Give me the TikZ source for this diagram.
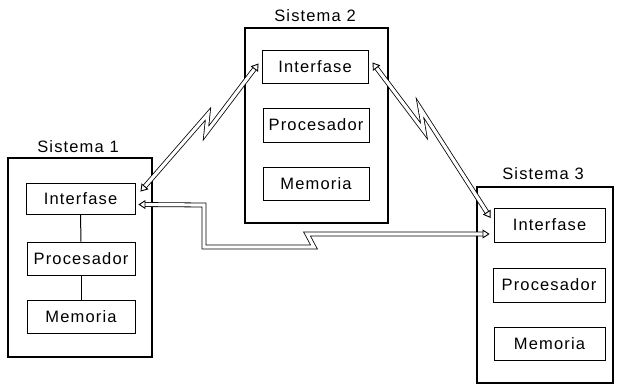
\documentclass[tikz,border=0pt]{standalone}
\usepackage{fontspec}
\setmainfont{Liberation Sans}[LetterSpace=7]
\usetikzlibrary{arrows.meta,calc}
\begin{document}
\begin{tikzpicture}[x=1pt,y=-1pt,
  sysbox/.style={draw,line width=1.1pt,inner sep=0pt},
  ibox/.style={draw,line width=0.9pt,inner sep=0pt,minimum width=108pt,minimum height=33pt,font=\fontsize{16.5}{18}\selectfont},
  syslabel/.style={font=\fontsize{16.5}{18}\selectfont,inner sep=0pt},
  link/.style={draw,line width=0.8pt,double=white,double distance=3.2pt,line join=miter,
    {Triangle[open,length=7pt,width=9pt,line width=0.9pt]}-{Triangle[open,length=7pt,width=9pt,line width=0.9pt]}},
  plain/.style={draw,line width=1pt}]
\useasboundingbox (0,0) rectangle (622,385);
% Sistema 1
\node[sysbox,minimum width=144pt,minimum height=199pt] (s1) at (80,257.5) {};
\node[syslabel] (s1l) at (78,147) {Sistema 1};
\node[ibox,minimum width=109pt,minimum height=31pt] (s1i) at (80.5,198.5) {Interfase};
\node[ibox] (s1p) at (81,258.5) {Procesador};
\node[ibox] (s1m) at (81,316.5) {Memoria};
\draw[plain] (s1i.south) -- (s1p.north);
\draw[plain] (s1p.south) -- (s1m.north);
% Sistema 2
\node[sysbox,minimum width=143pt,minimum height=195pt] (s2) at (316.5,125.5) {};
\node[syslabel] (s2l) at (315,16) {Sistema 2};
\node[ibox,minimum width=106pt] (s2i) at (315,66.5) {Interfase};
\node[ibox,minimum width=106pt,minimum height=34pt] (s2p) at (316,125) {Procesador};
\node[ibox,minimum width=106pt] (s2m) at (316,183.5) {Memoria};
% Sistema 3
\node[sysbox,minimum width=136pt,minimum height=196pt] (s3) at (545,285) {};
\node[syslabel] (s3l) at (543,174) {Sistema 3};
\node[ibox,minimum width=111pt,minimum height=34pt] (s3i) at (549.5,225) {Interfase};
\node[ibox,minimum width=112pt,minimum height=34pt] (s3p) at (549,285) {Procesador};
\node[ibox,minimum width=111pt] (s3m) at (549.5,343.5) {Memoria};
% connector end points
\coordinate (a1) at ($(s1i.north east)+(5,9)$);
\coordinate (b1) at ($(s2i.west)+(-3,-3)$);
\coordinate (a2) at ($(s2i.east)+(4,-4)$);
\coordinate (b2) at ($(s3i.west)+(-3,-7)$);
\coordinate (a3) at ($(s1i.east)+(3,6)$);
\coordinate (b3) at ($(s3i.west)+(-4,9)$);
% links
\draw[link] (a1) -- (208,114) -- (206,133) -- (b1);
\draw[link] (a2) -- (424,131) -- (420,108) -- (b2);
\draw[link] (a3) -- (204,205) -- (204,247) -- (314,247) -- (307,234) -- (b3);
\end{tikzpicture}
\end{document}
